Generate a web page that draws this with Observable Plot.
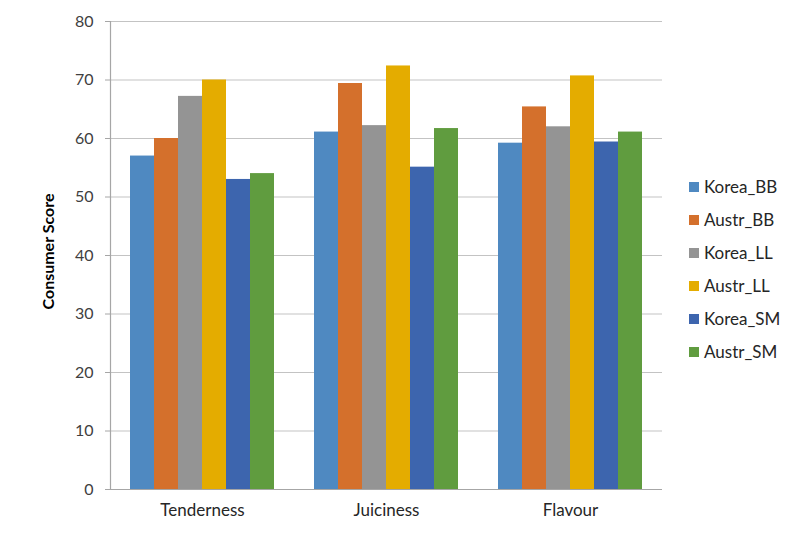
<!DOCTYPE html>
<html><head><meta charset="utf-8">
<script src="https://cdn.jsdelivr.net/npm/d3@7"></script>
<script src="https://cdn.jsdelivr.net/npm/@observablehq/plot@0.6"></script>
<style>
body{margin:0;background:#fff;font-family:Lato,sans-serif;}
#wrap{position:relative;width:793px;height:533px;}
#legend{position:absolute;left:689px;top:170px;}
.item{display:flex;align-items:center;height:33px;font-size:17px;color:#262626;}
.sw{width:10px;height:10px;margin-right:5px;}
</style></head><body><div id="wrap"><div id="legend"></div></div>
<script>
const categories = ["Tenderness", "Juiciness", "Flavour"];
const series = ["Korea_BB", "Austr_BB", "Korea_LL", "Austr_LL", "Korea_SM", "Austr_SM"];
const colors = ["#4f89c1", "#d4702c", "#949494", "#e4ac00", "#3d65ae", "#609c3f"];
const koreaBB = [57.0, 61.1, 59.2];
const austrBB = [60.0, 69.4, 65.4];
const koreaLL = [67.2, 62.2, 62.0];
const austrLL = [70.0, 72.4, 70.7];
const koreaSM = [53.0, 55.1, 59.4];
const austrSM = [54.0, 61.7, 61.1];
const yTicks = [0, 10, 20, 30, 40, 50, 60, 70, 80];
const yLabel = "Consumer Score";

const valuesBySeries = [koreaBB, austrBB, koreaLL, austrLL, koreaSM, austrSM];
const data = [];
categories.forEach((c, ci) => series.forEach((s, si) => data.push({category: c, series: s, value: valuesBySeries[si][ci]})));

const chart = Plot.plot({
  width: 793, height: 533,
  marginLeft: 110, marginRight: 131, marginTop: 21, marginBottom: 44,
  style: {fontFamily: "Lato, sans-serif", fontSize: "16px", color: "#262626", background: "transparent"},
  fx: {domain: categories, padding: 0, label: null},
  x: {domain: series, paddingInner: 0, paddingOuter: 0.75, axis: null},
  y: {domain: [0, 80], label: null},
  color: {domain: series, range: colors},
  marks: [
    Plot.gridY(yTicks, {stroke: "#c3c3c3", strokeOpacity: 1, strokeWidth: 1.2}),
    Plot.barY(data, {fx: "category", x: "series", y: "value", fill: "series"}),
    Plot.ruleY([0], {stroke: "#a6a6a6", strokeWidth: 1.2}),
    Plot.frame({anchor: "left", facet: "super", stroke: "#a6a6a6", strokeWidth: 1.2}),
    Plot.axisY(yTicks, {tickSize: 5, tickPadding: 12, stroke: "#a6a6a6", fill: "#404040", fontSize: 16, label: null}),
    Plot.axisFx({anchor: "bottom", tickSize: 0, tickPadding: 14, label: null, fontSize: 17, fill: "#262626"}),
    Plot.text([yLabel], {facet: "super", frameAnchor: "left", textAnchor: "middle", rotate: -90, dx: -62, dy: -4, fontWeight: "bold", fontSize: 16, fill: "#000"})
  ]
});
document.getElementById("wrap").prepend(chart);

const legend = document.getElementById("legend");
series.forEach((s, i) => {
  const row = document.createElement("div");
  row.className = "item";
  row.innerHTML = `<span class="sw" style="background:${colors[i]}"></span><span>${s}</span>`;
  legend.appendChild(row);
});
</script>
</body></html>
